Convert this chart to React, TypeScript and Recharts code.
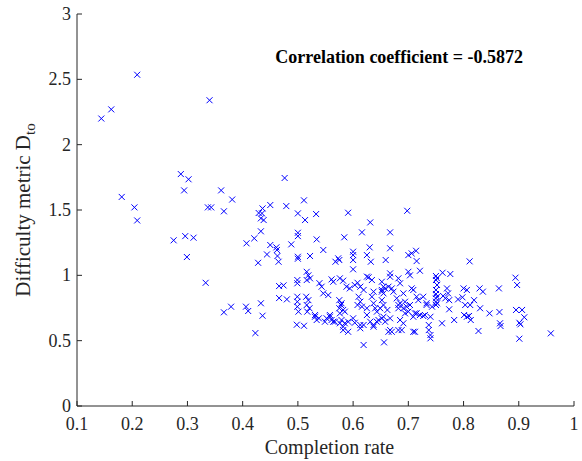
import { ScatterChart, Scatter, XAxis, YAxis, ReferenceDot } from 'recharts';

// completion rate (x) and difficulty metric D_to (y)
const completionRate = [
  0.209, 0.340, 0.162, 0.144, 0.288, 0.302, 0.294, 0.361, 0.381, 0.181,
  0.204, 0.209, 0.337, 0.343, 0.366, 0.275, 0.296, 0.311, 0.299, 0.407,
  0.476, 0.511, 0.450, 0.479, 0.429, 0.435, 0.436, 0.433, 0.438, 0.500,
  0.513, 0.533, 0.333, 0.421, 0.433, 0.450, 0.461, 0.462, 0.463, 0.465,
  0.444, 0.428, 0.488, 0.500, 0.500, 0.534, 0.500, 0.500, 0.522, 0.516,
  0.519, 0.522, 0.516, 0.499, 0.499, 0.466, 0.474, 0.539, 0.466, 0.480,
  0.499, 0.499, 0.499, 0.501, 0.515, 0.519, 0.516, 0.521, 0.517, 0.531,
  0.534, 0.538, 0.498, 0.511, 0.366, 0.379, 0.406, 0.410, 0.433, 0.436,
  0.423, 0.591, 0.698, 0.631, 0.616, 0.667, 0.584, 0.546, 0.568, 0.573,
  0.575, 0.600, 0.600, 0.600, 0.600, 0.630, 0.625, 0.632, 0.667, 0.659,
  0.700, 0.706, 0.714, 0.715, 0.721, 0.561, 0.564, 0.576, 0.582, 0.608,
  0.613, 0.628, 0.634, 0.652, 0.655, 0.652, 0.655, 0.667, 0.667, 0.664,
  0.670, 0.682, 0.685, 0.700, 0.703, 0.706, 0.750, 0.752, 0.750, 0.752,
  0.750, 0.750, 0.752, 0.750, 0.750, 0.752, 0.750, 0.546, 0.555, 0.575,
  0.578, 0.575, 0.582, 0.610, 0.613, 0.616, 0.608, 0.634, 0.637, 0.640,
  0.643, 0.652, 0.655, 0.662, 0.679, 0.685, 0.682, 0.694, 0.697, 0.703,
  0.694, 0.715, 0.718, 0.727, 0.712, 0.721, 0.730, 0.549, 0.558, 0.564,
  0.576, 0.582, 0.591, 0.600, 0.603, 0.613, 0.625, 0.631, 0.637, 0.643,
  0.652, 0.658, 0.667, 0.667, 0.664, 0.682, 0.712, 0.737, 0.737, 0.740,
  0.740, 0.619, 0.656, 0.811, 0.762, 0.776, 0.770, 0.763, 0.767, 0.733,
  0.743, 0.774, 0.761, 0.740, 0.727, 0.783, 0.800, 0.806, 0.790, 0.798,
  0.803, 0.812, 0.819, 0.801, 0.806, 0.810, 0.813, 0.829, 0.835, 0.830,
  0.827, 0.847, 0.864, 0.865, 0.866, 0.867, 0.894, 0.897, 0.895, 0.906,
  0.910, 0.901, 0.903, 0.901, 0.958, 0.625, 0.658, 0.652, 0.619, 0.637,
  0.673, 0.691, 0.709, 0.649, 0.625, 0.682, 0.691, 0.700, 0.715, 0.733,
  0.619, 0.637, 0.646, 0.655, 0.685, 0.691, 0.709, 0.670, 0.688, 0.709,
  0.543, 0.588, 0.594, 0.603, 0.579, 0.585, 0.576, 0.531, 0.552, 0.558,
  0.561, 0.567, 0.579, 0.585, 0.591, 0.582, 0.613, 0.772, 0.774,
];

const difficulty = [
  2.535, 2.340, 2.270, 2.200, 1.775, 1.735, 1.650, 1.650, 1.580, 1.600,
  1.520, 1.420, 1.520, 1.520, 1.490, 1.268, 1.300, 1.288, 1.140, 1.245,
  1.745, 1.574, 1.538, 1.530, 1.477, 1.474, 1.512, 1.436, 1.423, 1.474,
  1.423, 1.469, 0.943, 1.283, 1.337, 1.232, 1.214, 1.194, 1.148, 1.104,
  1.160, 1.096, 1.237, 1.326, 1.300, 1.275, 1.142, 1.127, 1.148, 1.027,
  1.000, 0.977, 0.964, 0.964, 0.939, 0.918, 0.923, 0.940, 0.826, 0.816,
  0.836, 0.798, 0.760, 0.722, 0.836, 0.810, 0.773, 0.748, 0.722, 0.683,
  0.658, 0.671, 0.622, 0.614, 0.717, 0.760, 0.760, 0.727, 0.786, 0.691,
  0.558, 1.479, 1.494, 1.405, 1.329, 1.329, 1.291, 1.194, 1.104, 1.130,
  1.117, 1.181, 1.155, 1.117, 1.046, 1.214, 1.155, 1.104, 1.207, 1.117,
  1.155, 1.168, 1.188, 1.109, 1.035, 0.969, 0.951, 0.977, 0.959, 0.943,
  0.913, 0.985, 0.964, 0.951, 0.913, 0.888, 0.862, 1.015, 0.989, 0.913,
  0.900, 0.977, 0.939, 1.027, 1.000, 0.900, 0.995, 0.977, 0.964, 0.926,
  0.888, 0.857, 0.836, 0.824, 0.798, 0.786, 0.773, 0.862, 0.849, 0.810,
  0.773, 0.748, 0.735, 0.836, 0.798, 0.760, 0.773, 0.836, 0.786, 0.748,
  0.722, 0.810, 0.773, 0.735, 0.824, 0.786, 0.748, 0.798, 0.760, 0.773,
  0.709, 0.836, 0.810, 0.836, 0.709, 0.696, 0.696, 0.645, 0.683, 0.645,
  0.633, 0.607, 0.568, 0.671, 0.637, 0.620, 0.696, 0.645, 0.620, 0.645,
  0.671, 0.645, 0.671, 0.581, 0.568, 0.581, 0.568, 0.620, 0.581, 0.543,
  0.518, 0.467, 0.487, 1.107, 1.020, 1.010, 0.900, 0.842, 0.824, 0.786,
  0.760, 0.740, 0.633, 0.683, 0.689, 0.658, 0.900, 0.888, 0.816, 0.832,
  0.773, 0.773, 0.810, 0.696, 0.683, 0.689, 0.658, 0.900, 0.875, 0.748,
  0.574, 0.709, 0.900, 0.719, 0.633, 0.612, 0.982, 0.926, 0.735, 0.735,
  0.679, 0.637, 0.625, 0.515, 0.556, 0.990, 0.900, 0.875, 0.888, 0.875,
  0.875, 0.862, 0.888, 0.748, 0.748, 0.773, 0.748, 0.722, 0.709, 0.773,
  0.620, 0.607, 0.658, 0.683, 0.658, 0.633, 0.683, 0.568, 0.581, 0.568,
  0.913, 0.913, 0.900, 0.926, 0.786, 0.722, 0.709, 0.696, 0.671, 0.696,
  0.658, 0.645, 0.658, 0.633, 0.645, 0.581, 0.595, 0.862, 0.810,
];

const xTicks = [0.1, 0.2, 0.3, 0.4, 0.5, 0.6, 0.7, 0.8, 0.9, 1];
const yTicks = [0, 0.5, 1, 1.5, 2, 2.5, 3];
const corrLabel = 'Correlation coefficient = -0.5872';

const data = completionRate.map((x, i) => ({ x, y: difficulty[i] }));

const AXIS = '#262626';
const FONT = '"Liberation Serif", "DejaVu Serif", serif';

const Cross = ({ cx, cy }: any) => (
  <path
    d={`M${cx - 3},${cy - 3}L${cx + 3},${cy + 3}M${cx - 3},${cy + 3}L${cx + 3},${cy - 3}`}
    stroke="#0000ff"
    strokeWidth={1}
    fill="none"
  />
);

// MATLAB style: ticks point into the box
const BottomTick = ({ x, y, payload }: any) => (
  <g>
    <line x1={x} y1={y} x2={x} y2={y - 5} stroke={AXIS} />
    <text x={x} y={y + 24} textAnchor="middle" fill={AXIS} fontSize={18} fontFamily={FONT}>
      {payload.value}
    </text>
  </g>
);
const TopTick = ({ x, y }: any) => <line x1={x} y1={y} x2={x} y2={y + 5} stroke={AXIS} />;
const LeftTick = ({ x, y, payload }: any) => (
  <g>
    <line x1={x} y1={y} x2={x + 5} y2={y} stroke={AXIS} />
    <text x={x - 6} y={y + 6} textAnchor="end" fill={AXIS} fontSize={18} fontFamily={FONT}>
      {payload.value}
    </text>
  </g>
);
const RightTick = ({ x, y }: any) => <line x1={x} y1={y} x2={x - 5} y2={y} stroke={AXIS} />;

const XLabel = ({ viewBox }: any) => (
  <text
    x={viewBox.x + viewBox.width / 2 + 4}
    y={viewBox.y + 48}
    textAnchor="middle"
    fill={AXIS}
    fontSize={20}
    fontFamily={FONT}
  >
    Completion rate
  </text>
);

const YLabel = ({ viewBox }: any) => {
  const cx = viewBox.x + 30;
  const cy = viewBox.y + viewBox.height / 2;
  return (
    <text
      x={cx}
      y={cy}
      transform={`rotate(-90, ${cx}, ${cy})`}
      textAnchor="middle"
      fill={AXIS}
      fontSize={21}
      fontFamily={FONT}
    >
      Difficulty metric D
      <tspan fontSize={15} dy={5}>to</tspan>
    </text>
  );
};

const CorrLabel = ({ viewBox }: any) => (
  <text
    x={viewBox.x}
    y={viewBox.y + 6}
    fill="#000"
    fontSize={18}
    fontWeight="bold"
    fontFamily={FONT}
  >
    {corrLabel}
  </text>
);

export default function App() {
  return (
    <div style={{ position: 'absolute', left: 0, top: 0, background: '#fff' }}>
      <ScatterChart width={582} height={461} margin={{ top: 14, right: 8, bottom: 0, left: 0 }}>
        <XAxis
          dataKey="x"
          type="number"
          domain={[0.1, 1]}
          ticks={xTicks}
          height={55}
          tickSize={0}
          tickMargin={0}
          tickLine={false}
          axisLine={{ stroke: AXIS }}
          tick={<BottomTick />}
          label={{ content: <XLabel /> }}
        />
        <XAxis
          xAxisId="top"
          orientation="top"
          type="number"
          domain={[0.1, 1]}
          ticks={xTicks}
          height={0}
          tickSize={0}
          tickMargin={0}
          tickLine={false}
          axisLine={{ stroke: AXIS }}
          tick={<TopTick />}
        />
        <YAxis
          dataKey="y"
          type="number"
          domain={[0, 3]}
          ticks={yTicks}
          width={77}
          tickSize={0}
          tickMargin={0}
          tickLine={false}
          axisLine={{ stroke: AXIS }}
          tick={<LeftTick />}
          label={{ content: <YLabel /> }}
        />
        <YAxis
          yAxisId="right"
          orientation="right"
          type="number"
          domain={[0, 3]}
          ticks={yTicks}
          width={0}
          tickSize={0}
          tickMargin={0}
          tickLine={false}
          axisLine={{ stroke: AXIS }}
          tick={<RightTick />}
        />
        <Scatter data={data} shape={<Cross />} isAnimationActive={false} />
        <ReferenceDot x={0.459} y={2.67} r={0} label={{ content: <CorrLabel /> }} />
      </ScatterChart>
    </div>
  );
}
